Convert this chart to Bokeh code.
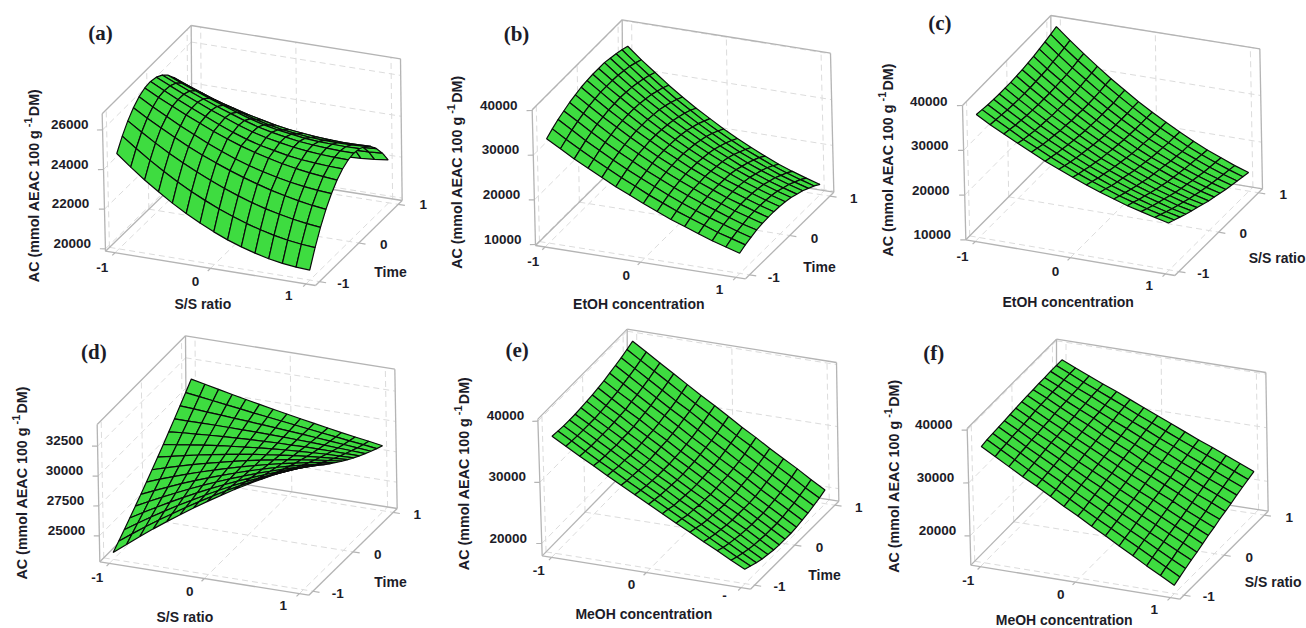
import numpy as np
from bokeh.plotting import figure
from bokeh.embed import file_html
from bokeh.resources import INLINE
from bokeh.core.properties import value

# AC in thousands of mmol AEAC/100 g DM; rows: second factor -1..1, columns: first factor -1..1
AC_a = [
[24.68,24.10,23.56,23.07,22.61,22.20,21.83,21.50,21.21,20.97,20.77,20.60,20.48,20.41,20.37],
[25.27,24.75,24.26,23.81,23.39,23.01,22.67,22.36,22.09,21.85,21.65,21.48,21.35,21.26,21.20],
[25.75,25.28,24.84,24.43,24.06,23.71,23.39,23.10,22.84,22.61,22.41,22.25,22.11,22.00,21.92],
[26.12,25.70,25.31,24.94,24.59,24.27,23.98,23.71,23.47,23.25,23.05,22.89,22.74,22.62,22.53],
[26.39,25.98,25.60,25.23,24.90,24.57,24.28,24.01,23.78,23.59,23.42,23.28,23.17,23.09,23.03],
[26.54,26.17,25.83,25.50,25.19,24.89,24.62,24.37,24.16,23.98,23.81,23.68,23.57,23.49,23.42],
[26.58,26.22,25.88,25.56,25.25,24.95,24.67,24.43,24.23,24.08,23.94,23.84,23.78,23.73,23.70],
[26.51,26.18,25.87,25.57,25.28,25.01,24.75,24.52,24.34,24.20,24.08,23.99,23.93,23.89,23.87],
[26.33,26.03,25.74,25.46,25.19,24.94,24.70,24.49,24.33,24.20,24.09,24.02,23.97,23.94,23.93],
[26.04,25.75,25.48,25.22,24.97,24.73,24.51,24.32,24.17,24.07,23.97,23.91,23.89,23.87,23.88],
[25.64,25.37,25.11,24.86,24.63,24.41,24.20,24.03,23.90,23.81,23.74,23.70,23.69,23.69,23.72],
[25.13,24.89,24.66,24.45,24.26,24.07,23.91,23.76,23.65,23.57,23.50,23.46,23.43,23.44,23.45],
[24.51,24.27,24.06,23.85,23.67,23.50,23.35,23.22,23.13,23.07,23.02,23.00,23.00,23.03,23.07],
[23.78,23.57,23.38,23.21,23.05,22.92,22.81,22.71,22.63,22.58,22.54,22.52,22.52,22.54,22.58],
[22.94,22.72,22.53,22.36,22.21,22.08,21.98,21.90,21.84,21.81,21.80,21.81,21.84,21.90,21.98],
]
AC_b = [
[33.1,31.3,29.5,27.9,26.3,24.7,23.3,21.9,20.6,19.3,18.2,17.1,16.0,15.1,14.2],
[34.0,32.1,30.3,28.6,27.0,25.4,24.0,22.5,21.2,19.9,18.8,17.7,16.6,15.7,14.8],
[34.8,32.9,31.0,29.3,27.6,26.0,24.5,23.1,21.7,20.4,19.2,18.1,17.1,16.1,15.2],
[35.4,33.5,31.6,29.8,28.1,26.5,24.9,23.5,22.1,20.8,19.6,18.5,17.4,16.4,15.6],
[36.0,34.0,32.1,30.2,28.5,26.9,25.3,23.8,22.4,21.1,19.8,18.7,17.6,16.7,15.8],
[36.4,34.4,32.4,30.6,28.8,27.1,25.5,24.0,22.6,21.2,20.0,18.8,17.8,16.8,15.9],
[36.8,34.7,32.7,30.8,29.0,27.3,25.6,24.1,22.6,21.3,20.0,18.9,17.8,16.8,15.9],
[37.0,34.9,32.8,30.9,29.0,27.3,25.6,24.1,22.6,21.2,19.9,18.8,17.7,16.7,15.8],
[37.1,34.9,32.9,30.9,29.0,27.2,25.5,23.9,22.4,21.0,19.8,18.6,17.5,16.5,15.6],
[37.1,34.9,32.8,30.8,28.8,27.0,25.3,23.7,22.2,20.8,19.5,18.3,17.2,16.2,15.3],
[37.1,34.8,32.6,30.5,28.6,26.7,25.0,23.3,21.8,20.4,19.0,17.8,16.7,15.7,14.8],
[36.8,34.5,32.3,30.2,28.2,26.3,24.5,22.9,21.3,19.9,18.5,17.3,16.2,15.2,14.3],
[36.5,34.2,31.9,29.7,27.7,25.8,24.0,22.3,20.7,19.2,17.9,16.7,15.5,14.5,13.6],
[36.1,33.7,31.4,29.2,27.1,25.2,23.3,21.6,20.0,18.5,17.2,15.9,14.8,13.8,12.9],
[35.6,33.1,30.8,28.5,26.4,24.4,22.6,20.8,19.2,17.7,16.3,15.0,13.9,12.9,12.0],
]
AC_c = [
[37.4,35.6,34.0,32.4,30.9,29.4,28.1,26.8,25.6,24.5,23.5,22.5,21.7,20.9,20.2],
[37.2,35.4,33.7,32.0,30.5,29.0,27.6,26.3,25.1,24.0,22.9,22.0,21.1,20.3,19.6],
[37.0,35.2,33.4,31.7,30.1,28.6,27.2,25.9,24.6,23.4,22.4,21.4,20.5,19.7,19.0],
[36.9,35.0,33.2,31.4,29.8,28.3,26.8,25.4,24.2,23.0,21.9,20.9,20.0,19.1,18.4],
[36.8,34.9,33.0,31.2,29.6,28.0,26.5,25.1,23.8,22.6,21.4,20.4,19.5,18.6,17.9],
[36.8,34.8,32.9,31.1,29.3,27.7,26.2,24.7,23.4,22.2,21.0,19.9,19.0,18.1,17.4],
[36.8,34.8,32.8,30.9,29.2,27.5,25.9,24.5,23.1,21.8,20.6,19.5,18.5,17.6,16.9],
[36.9,34.8,32.8,30.9,29.0,27.3,25.7,24.2,22.8,21.5,20.3,19.1,18.1,17.2,16.4],
[37.0,34.9,32.8,30.8,29.0,27.2,25.5,24.0,22.5,21.2,20.0,18.8,17.8,16.8,16.0],
[37.2,35.0,32.9,30.8,28.9,27.1,25.4,23.8,22.3,20.9,19.7,18.5,17.4,16.4,15.6],
[37.4,35.1,33.0,30.9,28.9,27.1,25.3,23.7,22.2,20.7,19.4,18.2,17.1,16.1,15.2],
[37.7,35.4,33.1,31.0,29.0,27.1,25.3,23.6,22.0,20.6,19.2,18.0,16.8,15.8,14.9],
[38.0,35.6,33.3,31.2,29.1,27.1,25.3,23.6,21.9,20.4,19.0,17.8,16.6,15.5,14.6],
[38.4,35.9,33.6,31.4,29.3,27.3,25.4,23.6,21.9,20.4,18.9,17.6,16.4,15.3,14.3],
[38.8,36.3,33.9,31.6,29.4,27.4,25.4,23.6,21.9,20.3,18.8,17.4,16.2,15.0,14.0],
]
AC_d = [
[23.40,24.26,25.11,25.92,26.70,27.46,28.20,28.90,29.58,30.24,30.86,31.46,32.03,32.58,33.10],
[23.88,24.67,25.44,26.18,26.89,27.59,28.25,28.89,29.51,30.09,30.65,31.18,31.70,32.17,32.63],
[24.37,25.09,25.78,26.45,27.10,27.71,28.31,28.88,29.43,29.95,30.44,30.91,31.36,31.79,32.18],
[24.87,25.51,26.13,26.73,27.31,27.86,28.39,28.89,29.37,29.82,30.25,30.67,31.05,31.41,31.75],
[25.39,25.95,26.50,27.02,27.53,28.01,28.47,28.90,29.31,29.71,30.07,30.42,30.74,31.05,31.33],
[25.90,26.39,26.86,27.32,27.75,28.16,28.55,28.92,29.27,29.60,29.91,30.20,30.46,30.71,30.94],
[26.45,26.87,27.26,27.64,28.00,28.33,28.66,28.96,29.24,29.51,29.76,29.98,30.20,30.39,30.56],
[27.00,27.34,27.66,27.96,28.24,28.51,28.76,29.00,29.22,29.43,29.62,29.78,29.94,30.08,30.20],
[27.57,27.82,28.06,28.29,28.50,28.69,28.88,29.05,29.20,29.35,29.48,29.59,29.70,29.78,29.86],
[28.14,28.31,28.48,28.63,28.77,28.90,29.01,29.12,29.21,29.30,29.37,29.43,29.48,29.51,29.54],
[28.73,28.83,28.90,28.98,29.04,29.10,29.15,29.19,29.23,29.24,29.26,29.26,29.26,29.25,29.23],
[29.33,29.33,29.34,29.34,29.33,29.31,29.30,29.27,29.24,29.21,29.17,29.12,29.06,29.01,28.95],
[29.94,29.86,29.78,29.70,29.62,29.54,29.45,29.36,29.27,29.18,29.08,28.98,28.88,28.78,28.68],
[30.56,30.40,30.24,30.08,29.93,29.76,29.61,29.46,29.31,29.16,29.01,28.86,28.72,28.58,28.43],
[31.20,30.95,30.71,30.47,30.23,30.01,29.78,29.57,29.36,29.15,28.95,28.75,28.57,28.39,28.20],
]
AC_e = [
[37.1,35.8,34.5,33.3,32.0,30.8,29.6,28.4,27.2,26.0,24.9,23.7,22.6,21.4,20.3],
[37.0,35.7,34.4,33.1,31.9,30.6,29.4,28.2,27.0,25.8,24.6,23.4,22.2,21.0,19.9],
[36.9,35.6,34.3,33.0,31.7,30.5,29.2,28.0,26.7,25.5,24.3,23.1,21.9,20.7,19.5],
[36.9,35.6,34.3,33.0,31.7,30.4,29.1,27.9,26.6,25.4,24.1,22.9,21.7,20.4,19.2],
[36.9,35.6,34.3,32.9,31.6,30.3,29.0,27.8,26.5,25.2,24.0,22.7,21.5,20.2,19.0],
[37.0,35.6,34.3,33.0,31.6,30.3,29.0,27.7,26.4,25.2,23.9,22.6,21.4,20.1,18.8],
[37.1,35.7,34.4,33.0,31.7,30.4,29.0,27.7,26.4,25.1,23.8,22.6,21.3,20.0,18.7],
[37.2,35.8,34.5,33.1,31.8,30.5,29.1,27.8,26.5,25.2,23.9,22.6,21.3,20.0,18.7],
[37.4,36.0,34.6,33.3,31.9,30.6,29.2,27.9,26.6,25.3,23.9,22.6,21.3,20.0,18.7],
[37.6,36.2,34.9,33.5,32.1,30.8,29.4,28.1,26.7,25.4,24.1,22.7,21.4,20.1,18.8],
[37.9,36.5,35.1,33.7,32.4,31.0,29.6,28.3,26.9,25.6,24.3,22.9,21.6,20.3,19.0],
[38.2,36.8,35.4,34.0,32.6,31.3,29.9,28.5,27.2,25.8,24.5,23.2,21.8,20.5,19.2],
[38.5,37.1,35.7,34.3,32.9,31.6,30.2,28.8,27.5,26.1,24.8,23.4,22.1,20.8,19.5],
[38.9,37.5,36.1,34.7,33.3,31.9,30.6,29.2,27.8,26.5,25.1,23.8,22.5,21.1,19.8],
[39.3,37.9,36.5,35.1,33.7,32.3,31.0,29.6,28.2,26.9,25.5,24.2,22.9,21.5,20.2],
]
AC_f = [
[36.4,34.9,33.4,31.9,30.5,29.0,27.5,26.1,24.6,23.2,21.7,20.3,18.8,17.4,16.0],
[36.6,35.1,33.6,32.1,30.7,29.2,27.8,26.3,24.9,23.5,22.1,20.7,19.3,17.9,16.5],
[36.7,35.2,33.8,32.3,30.9,29.5,28.0,26.6,25.2,23.8,22.4,21.1,19.7,18.3,17.0],
[36.8,35.4,33.9,32.5,31.1,29.7,28.3,26.9,25.5,24.1,22.8,21.4,20.1,18.8,17.5],
[36.9,35.5,34.1,32.7,31.3,29.9,28.5,27.2,25.8,24.5,23.1,21.8,20.5,19.2,17.9],
[37.0,35.6,34.2,32.9,31.5,30.1,28.8,27.5,26.1,24.8,23.5,22.2,20.9,19.7,18.4],
[37.1,35.7,34.4,33.0,31.7,30.4,29.0,27.7,26.4,25.1,23.9,22.6,21.3,20.1,18.9],
[37.2,35.9,34.5,33.2,31.9,30.6,29.3,28.0,26.7,25.5,24.2,23.0,21.7,20.5,19.3],
[37.3,36.0,34.7,33.4,32.1,30.8,29.5,28.3,27.0,25.8,24.6,23.4,22.1,20.9,19.8],
[37.3,36.1,34.8,33.5,32.3,31.0,29.8,28.6,27.3,26.1,24.9,23.7,22.5,21.4,20.2],
[37.4,36.2,34.9,33.7,32.5,31.2,30.0,28.8,27.6,26.4,25.3,24.1,22.9,21.8,20.6],
[37.4,36.2,35.0,33.8,32.6,31.4,30.3,29.1,27.9,26.8,25.6,24.5,23.3,22.2,21.1],
[37.5,36.3,35.1,34.0,32.8,31.7,30.5,29.4,28.2,27.1,25.9,24.8,23.7,22.6,21.5],
[37.5,36.4,35.2,34.1,33.0,31.9,30.7,29.6,28.5,27.4,26.3,25.2,24.1,23.0,21.9],
[37.5,36.4,35.3,34.2,33.2,32.1,31.0,29.9,28.8,27.7,26.6,25.6,24.5,23.4,22.3],
]
X_TICKS = [-1, 0, 1]
Y_TICKS = [-1, 0, 1]
Z_a = [20, 22, 24, 26]
Z_b = [10, 20, 30, 40]
Z_d = [25, 27.5, 30, 32.5]
Z_e = [20, 30, 40]
AC_TITLE = ["AC (mmol AEAC 100 g", "-1", "DM)"]

B = 1.1
GREEN = "#3edc40"
FRAME = "#b4b4b4"
DASH = "#dcdcdc"
INK = "#1c1c28"

# layout: pixel geometry of each panel's box (corner order A,B,C,D floor; A',B',C',D' top), in 3x crop units
PANELS = [
 dict(name="(a)", data=AC_a, off=(0,10), floor=[(315,722),(945,825),(1205,570),(575,470)], top=[(305,310),(938,400),(1200,145),(572,45)],
      zr=(19.88,26.81), zt=Z_a, zl=[(215,698),(210,580),(208,462),(208,342)], xl=[(305,770),(585,812),(865,855)], yl=[(1028,820),(1150,702),(1268,582)],
      xt=("S/S ratio",607,880), yt=("Time",1170,785), letter=(300,66), ac=(100,815)),
 dict(name="(b)", data=AC_b, off=(430,10), floor=[(315,705),(945,805),(1210,545),(578,445)], top=[(305,298),(938,390),(1200,128),(575,28)],
      zr=(9.78,40.15), zt=Z_b, zl=[(217,686),(213,552),(210,418),(205,285)], xl=[(308,752),(587,795),(867,838)], yl=[(1030,802),(1152,685),(1270,565)],
      xt=("EtOH concentration",625,880), yt=("Time",1167,770), letter=(258,69), ac=(78,775)),
 dict(name="(c)", data=AC_c, off=(876,10), floor=[(268,688),(895,795),(1158,535),(525,430)], top=[(258,285),(888,380),(1150,115),(523,15)],
      zr=(10.0,40.0), zt=Z_b, zl=[(167,672),(163,539),(160,405),(157,272)], xl=[(258,738),(537,782),(818,825)], yl=[(980,790),(1100,670),(1220,552)],
      xt=("EtOH concentration",575,873), yt=("S/S ratio",1202,742), letter=(190,36), ac=(33,738)),
 dict(name="(d)", data=AC_d, off=(0,318), floor=[(298,730),(925,830),(1190,570),(558,470)], top=[(290,318),(918,415),(1183,152),(555,52)],
      zr=(22.83,34.31), zt=Z_d, zl=[(198,635),(195,545),(192,455),(192,365)], xl=[(290,777),(568,818),(848,862)], yl=[(1012,825),(1132,708),(1250,588)],
      xt=("S/S ratio",553,895), yt=("Time",1170,790), letter=(280,99), ac=(65,783)),
 dict(name="(e)", data=AC_e, off=(430,318), floor=[(335,712),(960,812),(1225,548),(592,450)], top=[(322,302),(952,395),(1218,132),(590,32)],
      zr=(17.98,40.33), zt=Z_e, zl=[(233,660),(230,475),(225,292)], xl=[(325,755),(603,798),None], yl=[(1047,805),(1167,688),(1285,568)],
      xt=("MeOH concentration",640,885), yt=("Time",1182,770), letter=(260,94), ac=(100,755)),
 dict(name="(f)", data=AC_f, off=(876,318), floor=[(283,740),(910,842),(1175,578),(540,480)], top=[(272,330),(902,425),(1168,162),(540,62)],
      zr=(14.45,40.3), zt=Z_e, zl=[(183,635),(177,476),(172,318)], xl=[(275,785),(553,828),(833,872)], yl=[(997,835),(1118,717),(1238,597)],
      xt=("MeOH concentration",563,903), yt=("S/S ratio",1190,790), letter=(172,104), ac=(52,763)),
]

p = figure(width=1306, height=628, x_range=(0,1306), y_range=(628,0), output_backend="svg", toolbar_location=None, min_border=0)
p.axis.visible = False
p.grid.visible = False
p.outline_line_color = None

def real(P, pt):
    return (P["off"][0] + pt[0]/3.0, P["off"][1] + pt[1]/3.0)

def proj(P, x, y, z):
    """x, y in axis units, z in thousands -> page pixels"""
    u = (np.asarray(x, float)+B)/(2*B); v = (np.asarray(y, float)+B)/(2*B)
    t = (np.asarray(z, float)-P["zr"][0])/(P["zr"][1]-P["zr"][0])
    def bil(c, k):
        return (1-u)*(1-v)*c[0][k] + u*(1-v)*c[1][k] + u*v*c[2][k] + (1-u)*v*c[3][k]
    sx = (1-t)*bil(P["floor"],0) + t*bil(P["top"],0)
    sy = (1-t)*bil(P["floor"],1) + t*bil(P["top"],1)
    return P["off"][0]+sx/3.0, P["off"][1]+sy/3.0

def seg(P, store, a, b):
    x0,y0 = proj(P,*a); x1,y1 = proj(P,*b)
    store[0].append([float(x0),float(x1)]); store[1].append([float(y0),float(y1)])

def txt(x, y, s, size, align="center", font="Liberation Sans", style="bold", angle=0.0, base="middle"):
    p.text([x],[y],text=[s],text_font=value(font),text_font_size=f"{size}px",text_font_style=style,
           text_color=INK,text_align=align,text_baseline=base,angle=angle)

for P in PANELS:
    zmin,zmax = P["zr"]
    d = ([],[]); s = ([],[]); tk = ([],[])
    for q in X_TICKS:
        seg(P,d,(q,-B,zmin),(q,B,zmin)); seg(P,d,(q,B,zmin),(q,B,zmax))
    for q in Y_TICKS:
        seg(P,d,(-B,q,zmin),(B,q,zmin)); seg(P,d,(-B,q,zmin),(-B,q,zmax))
    for zv in P["zt"]:
        seg(P,d,(-B,-B,zv),(-B,B,zv)); seg(P,d,(-B,B,zv),(B,B,zv))
    p.multi_line(d[0],d[1],line_color=DASH,line_width=1,line_dash="6 4")
    for a,b in [((-B,-B,zmin),(B,-B,zmin)),((B,-B,zmin),(B,B,zmin)),((B,B,zmin),(-B,B,zmin)),((-B,B,zmin),(-B,-B,zmin)),
                ((-B,-B,zmin),(-B,-B,zmax)),((-B,-B,zmax),(-B,B,zmax)),((-B,B,zmax),(B,B,zmax)),((B,B,zmax),(B,B,zmin)),((-B,B,zmax),(-B,B,zmin))]:
        seg(P,s,a,b)
    p.multi_line(s[0],s[1],line_color=FRAME,line_width=1.3)
    for zv in P["zt"]:
        seg(P,tk,(-B,-B,zv),(-B-0.05,-B-0.02,zv))
    for q in X_TICKS:
        seg(P,tk,(q,-B,zmin),(q,-B-0.07,zmin))
    for q in Y_TICKS:
        seg(P,tk,(B,q,zmin),(B+0.07,q,zmin))
    p.multi_line(tk[0],tk[1],line_color=FRAME,line_width=1.2)
    Z = np.array(P["data"]); n = Z.shape[0]; m = Z.shape[1]
    gx = np.linspace(-1,1,m); gy = np.linspace(-1,1,n)
    xs=[];ys=[]
    for j in range(n-2,-1,-1):
        for i in range(m-1):
            qx = [gx[i],gx[i+1],gx[i+1],gx[i]]; qy=[gy[j],gy[j],gy[j+1],gy[j+1]]
            qz = [Z[j,i],Z[j,i+1],Z[j+1,i+1],Z[j+1,i]]
            sx,sy = proj(P,qx,qy,qz)
            xs.append(sx.tolist()); ys.append(sy.tolist())
    p.patches(xs,ys,fill_color=GREEN,line_color="#0a0a0a",line_width=1.2)
    for zv,pt in zip(P["zt"],P["zl"]):
        rx,ry = real(P,pt); txt(rx,ry,str(int(zv*1000)),13.5)
    for lab,pt in zip(X_TICKS,P["xl"]):
        if pt is None:
            rx,ry = real(P,(882,832)); txt(rx,ry,"-",13.5); continue
        rx,ry = real(P,pt); txt(rx,ry,str(lab),13.5)
    for lab,pt in zip(Y_TICKS,P["yl"]):
        rx,ry = real(P,pt); txt(rx,ry,str(lab),13.5)
    rx,ry = real(P,P["xt"][1:]); txt(rx,ry,P["xt"][0],14)
    rx,ry = real(P,P["yt"][1:]); txt(rx,ry,P["yt"][0],14)
    rx,ry = real(P,P["letter"]); txt(rx,ry,P["name"],21,font="Liberation Serif")
    rx,ry = real(P,P["ac"])
    ang = np.pi/2
    txt(rx,ry,AC_TITLE[0],14.3,align="left",angle=ang)
    txt(rx-6,ry-155,AC_TITLE[1],11,align="left",angle=ang)
    txt(rx,ry-166,AC_TITLE[2],14.3,align="left",angle=ang)

open("out.html","w").write(file_html(p, INLINE))
